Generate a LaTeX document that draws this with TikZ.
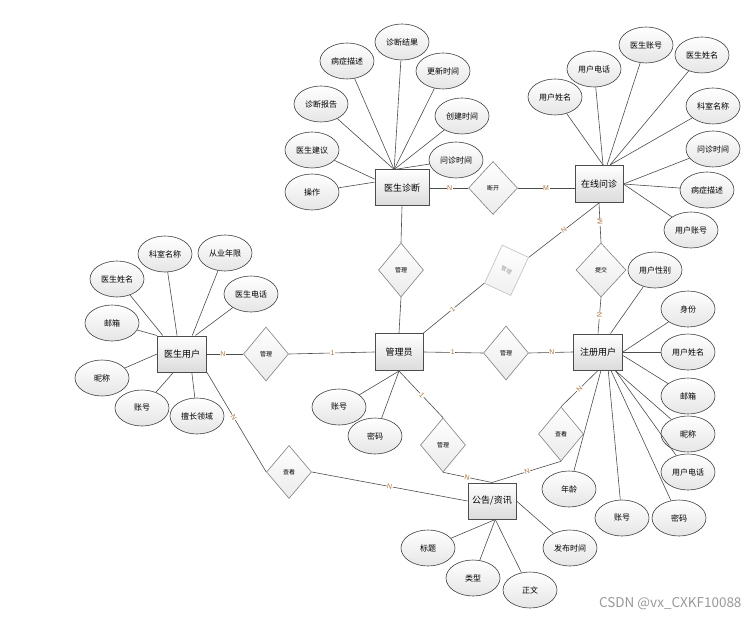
\documentclass[tikz,border=0pt]{standalone}
\usepackage{fontspec}
\setmainfont{Noto Sans CJK SC}
\setsansfont{Liberation Sans}
\usetikzlibrary{shapes.geometric,calc}
\definecolor{lblcol}{RGB}{175,115,60}
\tikzset{
  ent/.style={rectangle, draw=black!70, line width=1pt, top color=white, bottom color=black!14,
    minimum width=48, minimum height=36, inner sep=0, font=\fontsize{9}{9}\selectfont},
  attr/.style={ellipse, draw=black!75, line width=0.6pt, top color=white, bottom color=black!10,
    minimum width=54, minimum height=36, inner sep=0, font=\fontsize{8}{8}\selectfont},
  rel/.style={diamond, draw=black!50, line width=0.6pt, top color=white, bottom color=black!8,
    minimum width=45, minimum height=54, inner sep=0, font=\fontsize{6}{6}\selectfont},
  fade/.style={rectangle, draw=black!25, line width=0.6pt, top color=white, bottom color=black!6,
    minimum width=29, minimum height=42, inner sep=0, text=black!40, rotate=-25,
    font=\fontsize{5.5}{5.5}\selectfont},
  conn/.style={draw=black!70, line width=0.6pt},
  lbl/.style={font=\sffamily\fontsize{7}{7}\selectfont, text=lblcol, inner sep=0.6pt, fill=white},
  wmark/.style={font=\fontsize{13.5}{13.5}\selectfont, text=black!40}
}
\begin{document}
\begin{tikzpicture}[x=1pt,y=-1pt]
\useasboundingbox (0,0) rectangle (751,617);
% entities
\node[ent, minimum width=54] (dz) at (402,188) {医生诊断};
\node[ent, minimum height=37] (zx) at (599,184) {在线问诊};
\node[ent, minimum width=49] (yh) at (182,354) {医生用户};
\node[ent, minimum height=37] (gl) at (399,352) {管理员};
\node[ent, minimum width=49] (zc) at (598,352) {注册用户};
\node[ent] (gg) at (492,501) {公告/资讯};
% relations
\node[rel, minimum width=49, minimum height=53] (dk) at (493,188) {断开};
\node[rel] (r1) at (401,270) {管理};
\node[rel, minimum width=50] (tj) at (601,270) {提交};
\node[rel] (r2) at (266,354) {管理};
\node[rel] (r3) at (506,353) {管理};
\node[rel] (r4) at (443,445) {管理};
\node[rel] (c1) at (561,434) {查看};
\node[rel, minimum height=53] (c2) at (289,472) {查看};
\node[fade] (fd) at (506.5,270.3) {管理};
% attributes of 医生诊断
\node[attr] (a1) at (347,61) {病症描述};
\node[attr] (a2) at (402,42) {诊断结果};
\node[attr] (a3) at (443,71) {更新时间};
\node[attr] (a4) at (321,104) {诊断报告};
\node[attr] (a5) at (462,116) {创建时间};
\node[attr] (a6) at (312,150) {医生建议};
\node[attr] (a7) at (456,160) {问诊时间};
\node[attr] (a8) at (312,192) {操作};
% attributes of 在线问诊
\node[attr] (b1) at (594,69) {用户电话};
\node[attr] (b2) at (646,45) {医生账号};
\node[attr] (b3) at (702,55) {医生姓名};
\node[attr] (b4) at (555,97) {用户姓名};
\node[attr] (b5) at (713,106) {科室名称};
\node[attr] (b6) at (713,149) {问诊时间};
\node[attr] (b7) at (707,190) {病症描述};
\node[attr] (b8) at (691,230) {用户账号};
% attributes of 医生用户
\node[attr] (d1) at (165,254) {科室名称};
\node[attr] (d2) at (225,253) {从业年限};
\node[attr] (d3) at (117,279) {医生姓名};
\node[attr] (d4) at (251,294) {医生电话};
\node[attr] (d5) at (112,323) {邮箱};
\node[attr] (d6) at (102,378) {昵称};
\node[attr] (d7) at (142,408) {账号};
\node[attr] (d8) at (197,416) {擅长领域};
% attributes of 管理员
\node[attr] (e1) at (339,407) {账号};
\node[attr] (e2) at (375,436) {密码};
% attributes of 注册用户
\node[attr] (f1) at (655,270) {用户性别};
\node[attr] (f2) at (688,309) {身份};
\node[attr] (f3) at (688,352) {用户姓名};
\node[attr] (f4) at (688,396) {邮箱};
\node[attr] (f5) at (688,434) {昵称};
\node[attr] (f6) at (688,472) {用户电话};
\node[attr] (f7) at (622,518) {账号};
\node[attr] (f8) at (679,518) {密码};
\node[attr] (f9) at (569,489) {年龄};
% attributes of 公告/资讯
\node[attr] (g1) at (428,548) {标题};
\node[attr] (g2) at (473,578) {类型};
\node[attr] (g3) at (530,590) {正文};
\node[attr] (g4) at (570,548) {发布时间};
% attribute connectors
\foreach \a in {a1,a2,a3,a4,a5,a7} \draw[conn] (\a) -- (dz.113);
\draw[conn] (a6) -- (dz.162);
\draw[conn] (a8) -- (dz.168);
\draw[conn] (b4) -- (zx.78);
\draw[conn] (b1) -- (zx.78);
\draw[conn] (b2) -- (zx.67);
\draw[conn] (b3) -- (zx.60);
\draw[conn] (b5) -- (zx.60);
\foreach \a in {b6,b7,b8} \draw[conn] (\a) -- (zx.east);
\draw[conn] (d1) -- (yh.105);
\draw[conn] (d2) -- (yh.61);
\draw[conn] (d3) -- (yh.136);
\draw[conn] (d4) -- (yh.54);
\draw[conn] (d5) -- (yh.north west);
\draw[conn] (d6) -- (yh.west);
\draw[conn] (d7) -- (yh.245);
\draw[conn] (d8) -- (yh.298);
\draw[conn] (e1) -- (gl.south);
\draw[conn] (e2) -- (gl.south);
\draw[conn] (f1) -- (zc.56);
\draw[conn] (f2) -- (zc.east);
\draw[conn] (f3) -- (zc.east);
\draw[conn] (f4) -- (zc.-8);
\draw[conn] (f5) -- (zc.-47);
\draw[conn] (f6) -- (zc.-47);
\draw[conn] (f8) -- (zc.-55);
\draw[conn] (f7) -- (zc.-61);
\draw[conn] (f9) -- (zc.-81);
\draw[conn] (g1) -- (gg.-80);
\draw[conn] (g2) -- (gg.-80);
\draw[conn] (g3) -- (gg.-80);
\draw[conn] (g4) -- (gg.east);
% relationship connectors
\draw[conn] (dz.east) -- node[lbl, pos=0.52]{N} (dk.west);
\draw[conn] (dk.east) -- node[lbl, pos=0.5]{M} (zx.west |- dk.east);
\draw[conn] (zx.south) -- node[lbl, pos=0.48, rotate=90]{M} (tj.north);
\draw[conn] (tj.south) -- node[lbl, pos=0.5, rotate=90]{N} (zc.north);
\draw[conn] (fd.north east) -- node[lbl, pos=0.5, sloped]{N} (zx.south);
\draw[conn] (gl.north east) -- node[lbl, pos=0.48, sloped]{1} (fd.south west);
\draw[conn] (gl.north) -- (r1.south);
\draw[conn] (r1.north) -- (dz.south);
\draw[conn] (yh.east) -- node[lbl, pos=0.44]{N} (r2.west);
\draw[conn] (r2.east) -- node[lbl, pos=0.51]{1} (gl.west);
\draw[conn] (gl.east) -- node[lbl, pos=0.49]{1} (r3.west);
\draw[conn] (r3.east) -- node[lbl, pos=0.52]{N} (zc.west);
\draw[conn] (gl.south) -- node[lbl, pos=0.52, sloped]{1} (r4.north);
\draw[conn] (r4.south) -- node[lbl, pos=0.49, sloped]{N} (gg.north);
\draw[conn] (zc.south) -- node[lbl, pos=0.5, sloped]{N} (c1.north);
\draw[conn] (c1.south) -- node[lbl, pos=0.49, sloped]{N} (gg.north);
\draw[conn] (yh.south east) -- node[lbl, pos=0.45, sloped]{N} (c2.west);
\draw[conn] (c2.east) -- node[lbl, pos=0.5, sloped]{N} (gg.west);
% watermark
\node[wmark, anchor=east] (wm) at (745,604) {CSDN @vx\_CXKF10088};
\end{tikzpicture}
\end{document}
